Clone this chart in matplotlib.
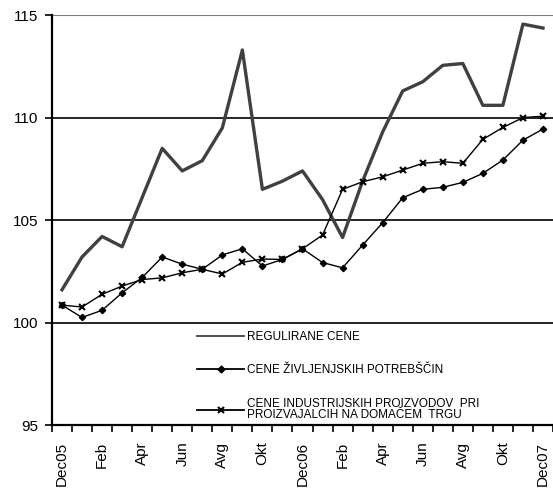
import matplotlib.pyplot as plt
from matplotlib.lines import Line2D
import numpy as np

plt.rcParams['font.family'] = ['Liberation Sans', 'DejaVu Sans']

# meseci Dec05 .. Dec07
meseci = ['Dec05', '', 'Feb', '', 'Apr', '', 'Jun', '', 'Avg', '', 'Okt', '',
          'Dec06', '', 'Feb', '', 'Apr', '', 'Jun', '', 'Avg', '', 'Okt', '', 'Dec07']

regulirane = [101.6, 103.2, 104.2, 103.7, 106.1, 108.5, 107.4, 107.9, 109.5, 113.3,
              106.5, 106.9, 107.4, 106.0, 104.15, 106.9, 109.3, 111.3, 111.75, 112.55,
              112.64, 110.6, 110.6, 114.56, 114.37]
zivljenjske = [100.85, 100.25, 100.6, 101.45, 102.2, 103.2, 102.85, 102.6, 103.3, 103.6,
               102.76, 103.08, 103.6, 102.93, 102.67, 103.78, 104.87, 106.09, 106.5, 106.6,
               106.84, 107.28, 107.93, 108.9, 109.44]
industrijski = [100.85, 100.76, 101.38, 101.78, 102.1, 102.18, 102.43, 102.6, 102.37, 102.94,
                103.1, 103.08, 103.6, 104.27, 106.5, 106.87, 107.11, 107.44, 107.77, 107.85,
                107.77, 108.94, 109.52, 110.0, 110.07]

x = np.arange(len(meseci))

fig = plt.figure(figsize=(5.53, 4.88), dpi=100)
ax = fig.add_axes([0.094, 0.129, 0.906, 0.84])

for v in [100, 105, 110]:
    ax.axhline(v, color='black', lw=1.2, zorder=1)
ax.axhline(115, color='#808080', lw=1.5, zorder=1)

ax.plot(x, regulirane, color='#404040', lw=2.4, zorder=2)
ax.plot(x, zivljenjske, color='black', lw=1, marker='D', ms=3.2, zorder=3)
ax.plot(x, industrijski, color='black', lw=1, marker='x', ms=5, mew=1.5, zorder=3)

ax.set_xlim(-0.5, 24.2)
ax.set_ylim(95, 115)
ax.set_yticks([95, 100, 105, 110, 115])
ax.set_xticks(x)
ax.set_xticklabels(meseci, rotation=90, fontsize=11)
ax.set_xticks(np.arange(-0.5, 25, 1), minor=True)
ax.tick_params(axis='x', which='major', length=0, pad=12)
ax.tick_params(axis='x', which='minor', length=5, width=1.2, direction='out')
ax.tick_params(axis='y', length=5, width=1.2, direction='out', labelsize=11, pad=5)

for s in ['top', 'right']:
    ax.spines[s].set_visible(False)
ax.spines['left'].set_linewidth(1.6)
ax.spines['bottom'].set_linewidth(1.6)

handles = [
    Line2D([], [], color='#404040', lw=1.3),
    Line2D([], [], color='black', lw=1.3, marker='D', ms=3.5),
    Line2D([], [], color='black', lw=1.3, marker='x', ms=5, mew=1.5),
]
labels = ['REGULIRANE CENE', 'CENE ŽIVLJENJSKIH POTREBŠČIN',
          'CENE INDUSTRIJSKIH PROIZVODOV  PRI\nPROIZVAJALCIH NA DOMAČEM  TRGU']
leg = ax.legend(handles, labels, loc='upper left', bbox_to_anchor=(0.29, 0.229),
                frameon=False, fontsize=8.5, handlelength=4.0, handletextpad=0.25,
                labelspacing=1.8, borderaxespad=0, borderpad=0)
for t in leg.get_texts():
    t.set_linespacing(0.9)

fig.savefig('out.png', dpi=100)
